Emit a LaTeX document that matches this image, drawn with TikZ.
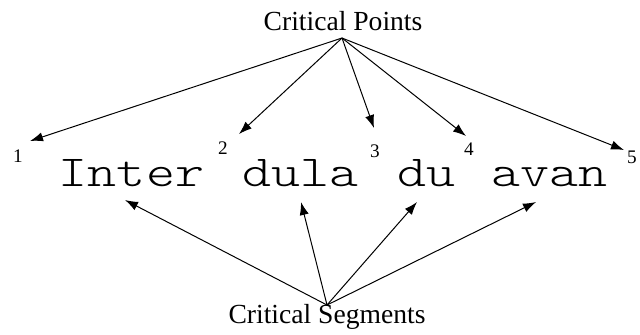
\documentclass[tikz,border=0pt]{standalone}
\usepackage{fontspec}
\setmainfont{Liberation Serif}
\newfontfamily\courierfont[FakeStretch=1.25]{Latin Modern Mono Light}
\usetikzlibrary{arrows.meta}
\begin{document}
\begin{tikzpicture}[x=0.5pt,y=-0.5pt,
  lbl/.style={inner sep=0pt,anchor=base,font=\fontsize{13.8}{15}\selectfont},
  num/.style={inner sep=0pt,font=\fontsize{9.6}{11}\selectfont},
  word/.style={inner sep=0pt,anchor=base,font=\courierfont\fontsize{22.1}{24}\selectfont},
  arr/.style={line width=0.5pt,-{Latex[length=6.5pt,width=4.6pt]}}]
\useasboundingbox (0,0) rectangle (640,334);
\node[lbl] (cp) at (343,30) {Critical Points};
\node[lbl] (cs) at (327,323) {Critical Segments};
\coordinate (cpo) at (342,38);
\coordinate (cso) at (327,305);
\node[num] (n1) at (18,156) {1};
\node[num] (n2) at (223,148) {2};
\node[num] (n3) at (375,151) {3};
\node[num] (n4) at (469,149) {4};
\node[num] (n5) at (632,157) {5};
\node[word] (w1) at (131.5,186) {Inter};
\node[word] (w2) at (300.5,186) {dula};
\node[word] (w3) at (426.5,186) {du};
\node[word] (w4) at (549,186) {avan};
\coordinate (t1) at (30,141);
\coordinate (t2) at (239,134);
\coordinate (t3) at (374,128);
\coordinate (t4) at (466,136);
\coordinate (t5) at (624,150);
\coordinate (b1) at (125,200);
\coordinate (b2) at (301,202);
\coordinate (b3) at (417,202);
\coordinate (b4) at (536,202);
\foreach \t in {t1,t2,t3,t4,t5} \draw[arr] (cpo) -- (\t);
\foreach \b in {b1,b2,b3,b4} \draw[arr] (cso) -- (\b);
\end{tikzpicture}
\end{document}
